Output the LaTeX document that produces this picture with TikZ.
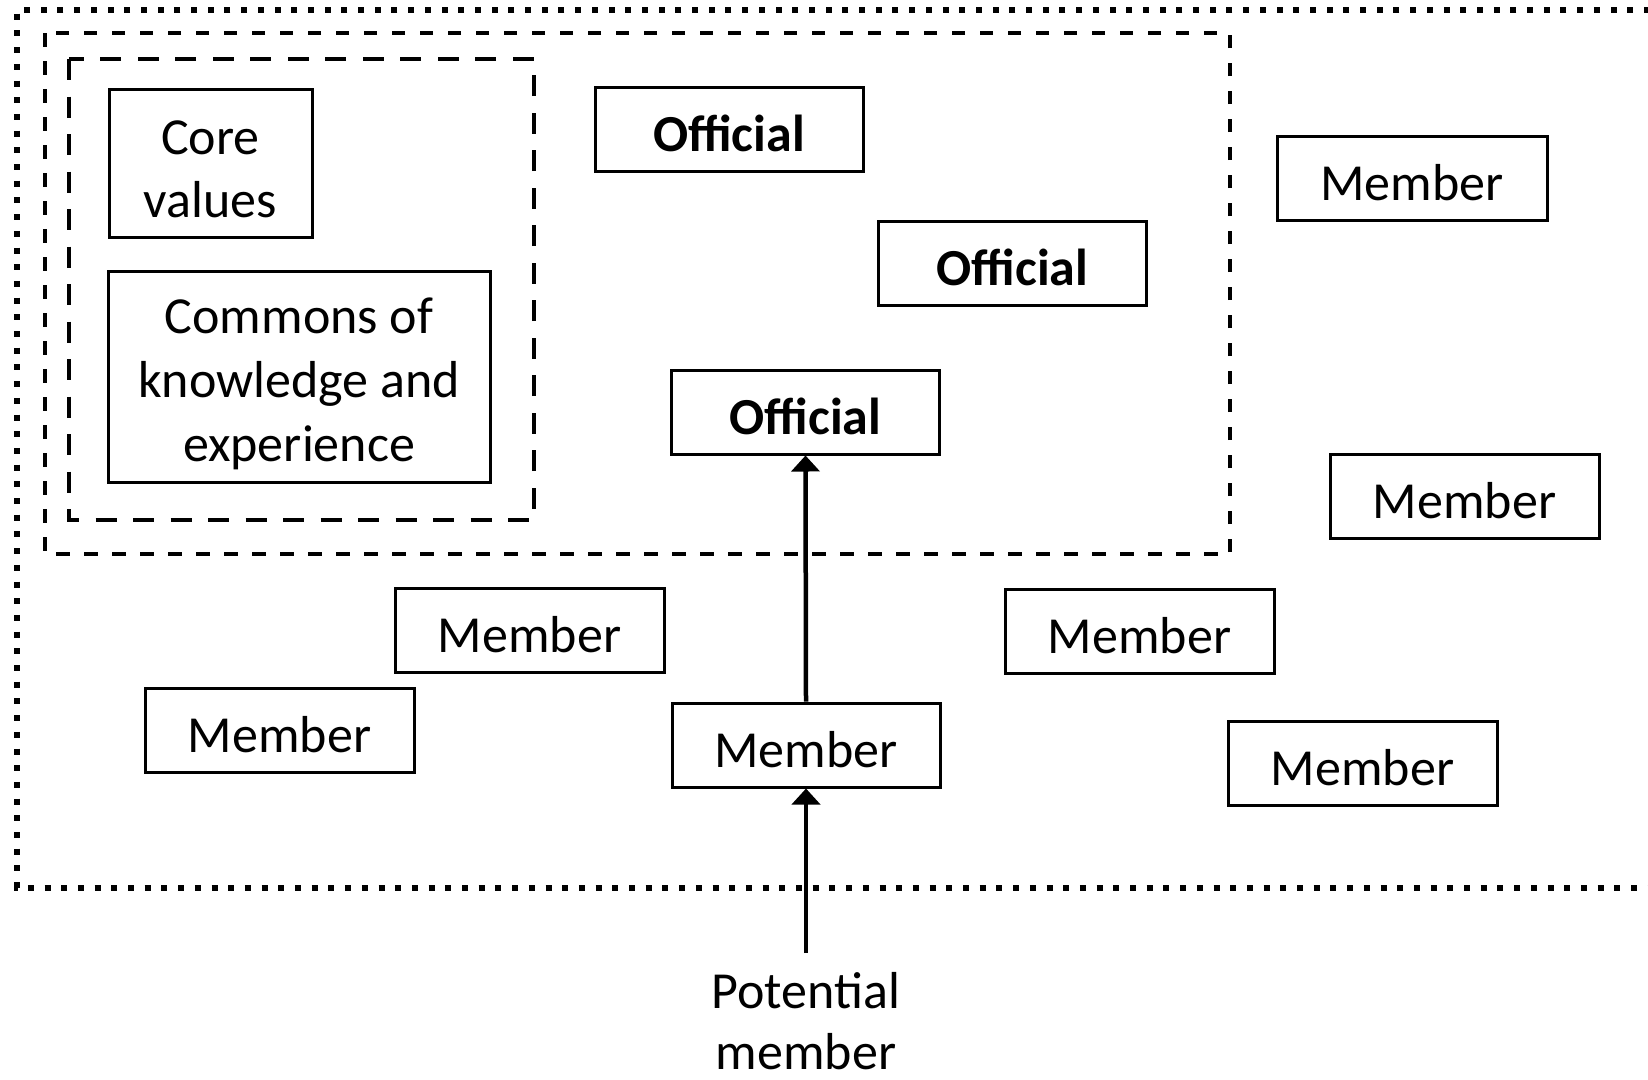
\documentclass[tikz,border=0pt]{standalone}
\usepackage{fontspec}
\setmainfont{Carlito}
\usetikzlibrary{arrows.meta}
\begin{document}
\begin{tikzpicture}[x=1pt,y=-1pt,
  box/.style={draw,line width=3pt,inner sep=0pt,font=\fontsize{52}{63}\selectfont,
    minimum width=268pt,minimum height=84pt,text height=44pt,text depth=0pt},
  mbox/.style={draw,line width=3pt,inner sep=0pt,align=center},
  dotline/.style={line width=6pt,dash pattern=on 6pt off 10.7pt},
  outerdash/.style={line width=4.5pt,dash pattern=on 13.5pt off 14.5pt},
  innerdash/.style={line width=4.5pt,dash pattern=on 21pt off 16.5pt},
  arr/.style={line width=4.5pt,-{Triangle[width=28pt,length=16pt]}}]
\clip (0,0) rectangle (1648,1079);
\fill[white] (0,0) rectangle (1648,1079);
% outer dotted frame (open to the right)
\draw[dotline] (1700,10) -- (17,10) -- (17,888) -- (1700,888);
% dashed frames
\draw[outerdash] (45,33) rectangle (1230,554);
\draw[innerdash] (69,59) rectangle (534,520);
% core boxes
\node[mbox,minimum width=203pt,minimum height=148pt] (core) at (210.5,163) {};
\node[font=\fontsize{52}{63}\selectfont,align=center,inner sep=0pt] (coret) at (210.5,169) {Core\\values};
\node[mbox,minimum width=382pt,minimum height=211pt] (commons) at (299,376.5) {};
\node[font=\fontsize{52}{64}\selectfont,align=center,inner sep=0pt] (commonst) at (299,384) {Commons of\\knowledge and\\experience};
% officials
\node[box,font=\fontsize{52}{63}\selectfont\bfseries] (off1) at (729,129) {Official};
\node[box,font=\fontsize{52}{63}\selectfont\bfseries] (off2) at (1012.5,263) {Official};
\node[box,font=\fontsize{52}{63}\selectfont\bfseries] (off3) at (805.5,412) {Official};
% members
\node[box,minimum width=270pt] (m1) at (1412,178) {Member};
\node[box,minimum width=269pt] (m2) at (1464.5,496) {Member};
\node[box,minimum width=269pt] (m3) at (529.5,630.5) {Member};
\node[box,minimum width=269pt] (m4) at (279.5,730.5) {Member};
\node[box,minimum width=268pt] (m5) at (806,745) {Member};
\node[box,minimum width=269pt] (m6) at (1139.5,631) {Member};
\node[box,minimum width=269pt] (m7) at (1362.5,763.5) {Member};
% potential member
\node[font=\fontsize{52}{61}\selectfont,align=center,inner sep=0pt,anchor=base] (pm) at (806,1069) {Potential\\member};
\coordinate (pmtop) at (806,953);
\draw[arr] (pmtop) -- (m5.south);
\draw[arr] (m5.north) -- (off3.south);
\end{tikzpicture}
\end{document}
